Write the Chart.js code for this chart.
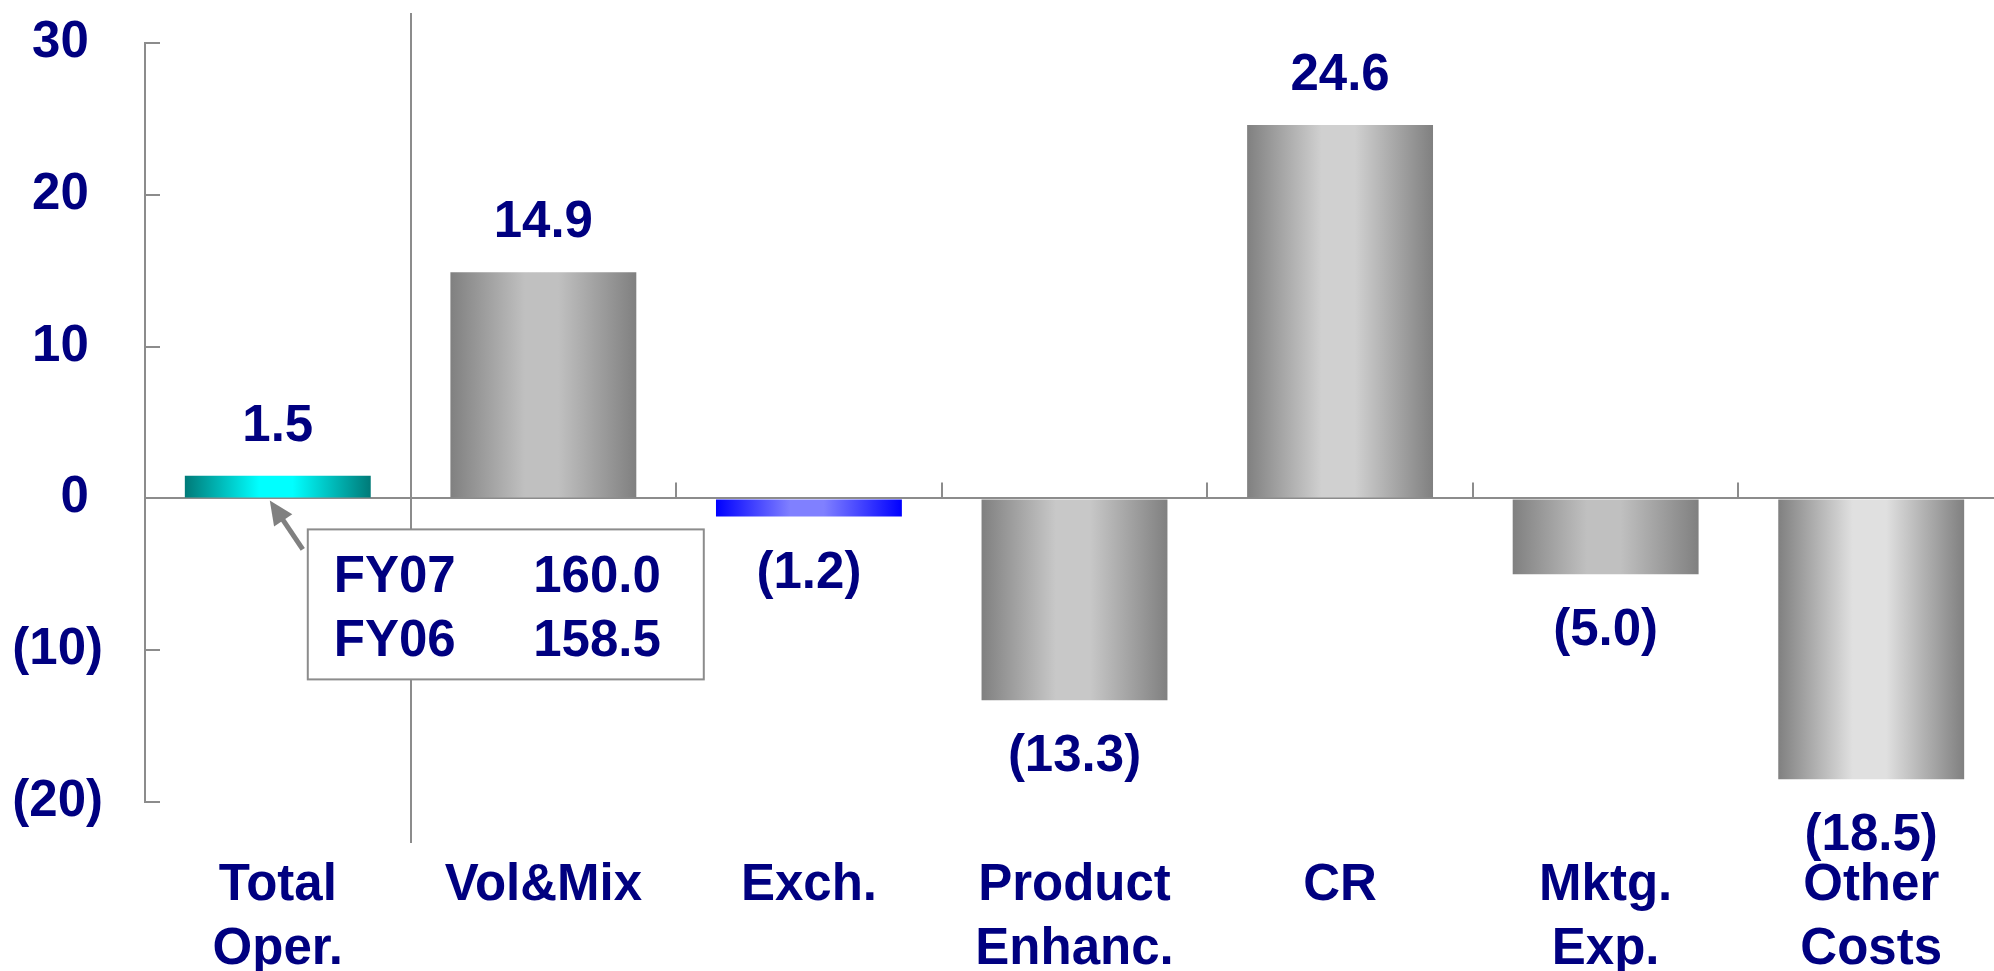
<!DOCTYPE html>
<html>
<head>
<meta charset="utf-8">
<script src="https://cdn.jsdelivr.net/npm/chart.js@4/dist/chart.umd.min.js"></script>
<style>
html, body { margin: 0; padding: 0; background: #fff; overflow: hidden; }
#wrap { width: 2010px; height: 971px; }
</style>
</head>
<body>
<div id="wrap"><canvas id="bridge" width="2010" height="971"></canvas></div>
<script>
const categories = [["Total", "Oper."], "Vol&Mix", "Exch.", ["Product", "Enhanc."], "CR", ["Mktg.", "Exp."], ["Other", "Costs"]];
const changes = [1.5, 14.9, -1.2, -13.3, 24.6, -5.0, -18.5];
const yTicks = [30, 20, 10, 0, -10, -20];
const totalYears = ["FY07", "FY06"];
const totalValues = [160.0, 158.5];

// edge and highlight colour of the cylinder shading, one per bar
const barEdge = ["#007a78", "#808080", "#0000ff", "#808080", "#808080", "#808080", "#808080"];
const barShine = ["#00ffff", "#c0c0c0", "#8080ff", "#c8c8c8", "#d0d0d0", "#c0c0c0", "#e0e0e0"];

const NAVY = "#000080";
const LINE = "#8c8c8c";
const FONT = '"Liberation Sans", Arial, sans-serif';
const labelFont = { family: FONT, size: 51, weight: "bold", lineHeight: 1.255 };

const fmt = v => v < 0 ? `(${Math.abs(v).toFixed(1)})` : v.toFixed(1);

const barFill = ctx => {
	const chart = ctx.chart;
	const x = chart.scales.x;
	const i = ctx.dataIndex;
	if (!chart.chartArea || !x) return barEdge[i];
	const half = x.width / categories.length * 0.7 / 2;
	const cx = x.getPixelForValue(i);
	const g = chart.ctx.createLinearGradient(cx - half, 0, cx + half, 0);
	g.addColorStop(0, barEdge[i]);
	g.addColorStop(0.4, barShine[i]);
	g.addColorStop(0.58, barShine[i]);
	g.addColorStop(1, barEdge[i]);
	return g;
};

// boundary ticks, the divider after the total, value labels and the FY callout
const overlay = {
	id: "overlay",
	afterDatasetsDraw(chart) {
		const { ctx, scales: { x, y } } = chart;
		const zero = y.getPixelForValue(0);
		const step = x.width / categories.length;
		ctx.save();
		ctx.strokeStyle = LINE;
		ctx.lineWidth = 2;
		for (let i = 1; i < categories.length; i++) {
			const bx = Math.round(x.getPixelForValue(i) - step / 2);
			ctx.beginPath();
			if (i === 1) {
				ctx.moveTo(bx, y.top - 30);
				ctx.lineTo(bx, y.bottom + 41);
			} else {
				ctx.moveTo(bx, zero - 16);
				ctx.lineTo(bx, zero);
			}
			ctx.stroke();
		}

		ctx.fillStyle = NAVY;
		ctx.font = `bold 51px ${FONT}`;
		ctx.textAlign = "center";
		ctx.textBaseline = "middle";
		chart.getDatasetMeta(0).data.forEach((bar, i) => {
			const v = changes[i];
			ctx.fillText(fmt(v), bar.x, v >= 0 ? bar.y - 49 : bar.y + 57);
		});

		// callout box with the two year totals
		const cx = x.getPixelForValue(0);
		const left = cx + 30, top = zero + 31, w = 396, h = 150;
		ctx.fillStyle = "#fff";
		ctx.fillRect(left, top, w, h);
		ctx.strokeRect(left, top, w, h);

		// arrow pointing up at the total bar
		const tipX = cx - 8, tipY = zero + 2;
		const tailX = left - 5, tailY = top + 20;
		const ang = Math.atan2(tipY - tailY, tipX - tailX);
		ctx.strokeStyle = "#808080";
		ctx.fillStyle = "#808080";
		ctx.lineWidth = 5;
		ctx.beginPath();
		ctx.moveTo(tailX, tailY);
		ctx.lineTo(tipX - 16 * Math.cos(ang), tipY - 16 * Math.sin(ang));
		ctx.stroke();
		ctx.beginPath();
		ctx.moveTo(tipX, tipY);
		ctx.lineTo(tipX - 24 * Math.cos(ang) + 11 * Math.sin(ang), tipY - 24 * Math.sin(ang) - 11 * Math.cos(ang));
		ctx.lineTo(tipX - 24 * Math.cos(ang) - 11 * Math.sin(ang), tipY - 24 * Math.sin(ang) + 11 * Math.cos(ang));
		ctx.closePath();
		ctx.fill();

		ctx.fillStyle = NAVY;
		ctx.textBaseline = "alphabetic";
		totalYears.forEach((yr, i) => {
			const base = top + 63 + i * 64;
			ctx.textAlign = "left";
			ctx.fillText(yr, left + 26, base);
			ctx.textAlign = "right";
			ctx.fillText(totalValues[i].toFixed(1), left + 353, base);
		});
		ctx.restore();
	}
};

new Chart(document.getElementById("bridge"), {
	type: "bar",
	data: {
		labels: categories,
		datasets: [{
			data: changes,
			backgroundColor: barFill,
			borderWidth: 0,
			barPercentage: 0.7,
			categoryPercentage: 1
		}]
	},
	plugins: [overlay],
	options: {
		responsive: false,
		animation: false,
		devicePixelRatio: 1,
		layout: { padding: { top: 43, right: 6, left: 0, bottom: 0 } },
		plugins: {
			legend: { display: false },
			tooltip: { enabled: false }
		},
		scales: {
			x: {
				grid: { display: false },
				border: { display: false },
				ticks: {
					color: NAVY,
					font: labelFont,
					padding: 44,
					maxRotation: 0,
					autoSkip: false
				},
				afterFit: s => {
					s.height = 169;
					s.paddingLeft = 0;
					s.paddingRight = 0;
				}
			},
			y: {
				min: -20,
				max: 30,
				afterBuildTicks: s => { s.ticks = yTicks.map(v => ({ value: v })); },
				grid: {
					color: c => c.tick && c.tick.value === 0 ? LINE : "rgba(0,0,0,0)",
					lineWidth: 2,
					tickLength: -15,
					tickColor: LINE,
					tickWidth: 2
				},
				border: { color: LINE, width: 2 },
				ticks: {
					color: NAVY,
					font: labelFont,
					padding: 57,
					callback: v => v < 0 ? `(${-v})` : `${v} `
				},
				afterFit: s => {
					s.width = 145;
					s.paddingTop = 0;
					s.paddingBottom = 0;
				}
			}
		}
	}
});
</script>
</body>
</html>
